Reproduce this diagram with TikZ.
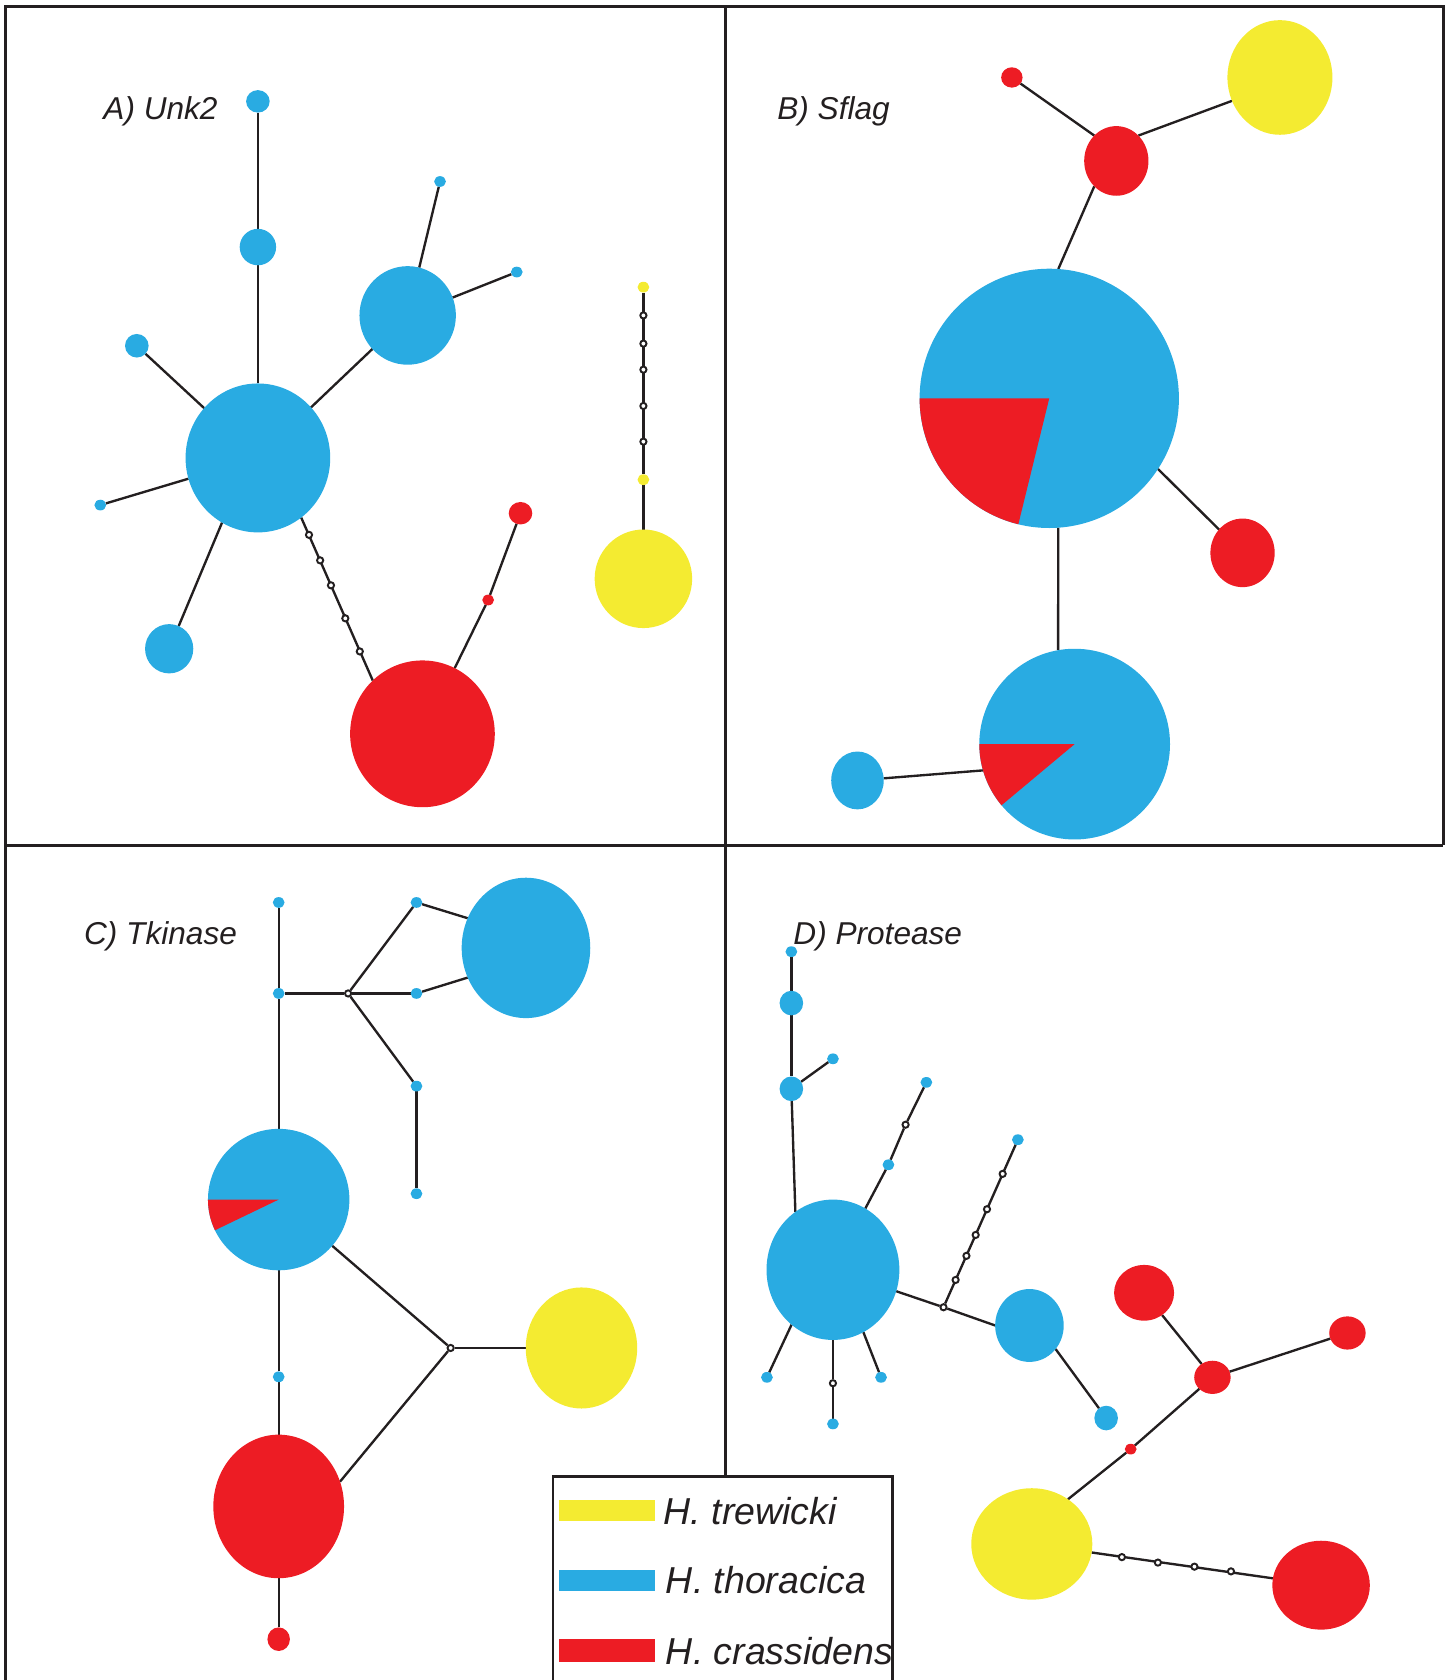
\documentclass[tikz,border=0pt]{standalone}
\usepackage{fontspec}
\newfontfamily\labfont{Liberation Sans}
\usetikzlibrary{shapes.geometric, backgrounds}
\definecolor{hblue}{HTML}{29ABE2}
\definecolor{hred}{HTML}{ED1C24}
\definecolor{hyel}{HTML}{F4EB31}
\definecolor{ink}{HTML}{231F20}

\begin{document}
\begin{tikzpicture}[x=1pt, y=-1pt,
		hap/.style={ellipse, inner sep=0pt, outer sep=0pt},
		sz/.style args={#1/#2}{minimum width=#1pt, minimum height=#2pt},
		thor/.style={hap, fill=hblue, sz=#1}, thor/.default=11/10,
		cras/.style={hap, fill=hred, sz=#1}, cras/.default=11/10,
		trew/.style={hap, fill=hyel, sz=#1}, trew/.default=11/10,
		mv/.style={circle, draw=ink, fill=white, line width=1.8pt, inner sep=0pt, minimum size=5.8pt},
		edge/.style={draw=ink, line width=2.2pt},
		frame/.style={draw=ink, line width=2.4pt},
		ttl/.style={anchor=west, text=ink, font=\labfont\itshape\fontsize{29.5}{34}\selectfont},
		key/.style={anchor=west, text=ink, font=\labfont\itshape\fontsize{35}{40}\selectfont}
		]
		\useasboundingbox (0,0) rectangle (1353,1568);
		
		% Panel frames
		\draw[frame] (5,1568) -- (5,6) -- (1347,6) -- (1347,789);
		\draw[frame] (5,789) -- (1347,789);
		\draw[frame] (677,6) -- (677,1378);
		
		% A) Unk2
		\node[ttl] (ttla) at (93,104) {A) Unk2};
		\node[thor=22/21] (ut1) at (240.7,94.6) {};
		\node[thor=34/34] (ut2) at (240.7,230.6) {};
		\node[thor=135/139] (ubig) at (240.7,427.4) {};
		\node[thor=22/22] (ut3) at (127.7,322.7) {};
		\node[thor] (ut4) at (93.6,471.4) {};
		\node[thor=45/46] (ut5) at (157.9,605.5) {};
		\node[thor=90/92] (umid) at (380.5,294.4) {};
		\node[thor] (ut6) at (410.7,169.4) {};
		\node[thor] (ut7) at (482.3,253.9) {};
		\node[cras=135/137] (ured) at (394.3,684.9) {};
		\node[cras] (ur1) at (455.6,560) {};
		\node[cras=22/21] (ur2) at (485.8,479) {};
		\node[trew=91/92] (uy) at (600.5,540.2) {};
		\node[trew] (uy1) at (600.5,268) {};
		\node[trew] (uy2) at (600.5,447.7) {};
		\foreach \n/\y in {1/294.4, 2/320.7, 3/345, 4/378.9, 5/412.2}
		\node[mv] (um\n) at (600.5,\y) {};
		\foreach \n/\x/\y in {1/288.4/499.2, 2/298.8/523, 3/308.9/546.3, 4/322.3/577.1, 5/335.8/608}
		\node[mv] (un\n) at (\x,\y) {};
		
		% B) Sflag
		\node[ttl] (ttlb) at (722,104) {B) Sflag};
		\node[cras=20/19] (sr1) at (944.4,72.3) {};
		\node[cras=60/65] (sr2) at (1041.9,150.2) {};
		\node[trew=98/107] (sy) at (1194.6,72.3) {};
		\node[thor=242/242] (spA) at (979.3,371.8) {};
		\node[cras=60/64] (sr3) at (1159.7,516) {};
		\node[thor=178/178] (spB) at (1003,694.5) {};
		\node[thor=49/54] (st1) at (800.3,728.4) {};
		\fill[hred] (spA.center) -- (spA.180) arc[start angle=180, end angle=103.8, radius=121] -- cycle;
		\fill[hred] (spB.center) -- (spB.180) arc[start angle=180, end angle=140.1, radius=89] -- cycle;
		
		% C) Tkinase
		\node[ttl] (ttlc) at (75,874) {C) Tkinase};
		\node[thor] (kt1) at (260.1,842.3) {};
		\node[thor] (kt2) at (260.1,927.2) {};
		\node[mv] (km1) at (324.9,927.2) {};
		\node[thor] (kt3) at (388.7,842.3) {};
		\node[thor] (kt4) at (388.7,927.2) {};
		\node[thor] (kt5) at (388.7,1013.7) {};
		\node[thor] (kt6) at (388.7,1114.1) {};
		\node[thor=120/131] (kbig) at (490.9,884.7) {};
		\node[thor=132/132] (kpie) at (260.1,1119.6) {};
		\node[thor] (kt7) at (260.1,1285) {};
		\node[cras=122/134] (kred) at (260.1,1406) {};
		\node[cras=21/22] (kr1) at (260.1,1529.9) {};
		\node[mv] (km2) at (420.6,1258.1) {};
		\node[trew=104/113] (ky) at (542.7,1258.1) {};
		\fill[hred] (kpie.center) -- (kpie.180) arc[start angle=180, end angle=154.3, radius=66] -- cycle;
		
		% D) Protease
		\node[ttl] (ttld) at (737,874) {D) Protease};
		\node[thor] (pt1) at (738.6,888.2) {};
		\node[thor=22/23] (pt2) at (738.6,936.2) {};
		\node[thor] (pt3) at (777.4,988.2) {};
		\node[thor=22/23] (pt4) at (738.6,1016.2) {};
		\node[thor=124/131] (pbig) at (777.4,1185.1) {};
		\node[thor] (pt5) at (829.2,1087.1) {};
		\node[mv] (pm1) at (845.2,1049.7) {};
		\node[thor] (pt6) at (864.6,1010.2) {};
		\node[mv] (pjn) at (880.6,1220.1) {};
		\foreach \n/\x/\y in {2/891.9/1194.6, 3/902/1172.1, 4/910.6/1152.6, 5/921.2/1128.6, 6/935.8/1095.6}
		\node[mv] (pm\n) at (\x,\y) {};
		\node[thor] (pt7) at (950,1063.7) {};
		\node[thor=64/68] (pb2) at (960.8,1237.1) {};
		\node[thor=22/23] (pt8) at (1032.4,1323.5) {};
		\node[thor] (pt9) at (715.8,1285.5) {};
		\node[mv] (pm7) at (777.4,1291) {};
		\node[thor] (pt10) at (777.4,1329) {};
		\node[thor] (pt11) at (822.3,1285.5) {};
		\node[cras=56/52] (pr1) at (1067.8,1206.6) {};
		\node[cras=34/31] (pr2) at (1131.6,1285.5) {};
		\node[cras=34/31] (pr3) at (1257.6,1244.1) {};
		\node[cras] (pr4) at (1055.3,1352.5) {};
		\node[trew=113/104] (py) at (963,1441) {};
		\node[cras=91/83] (pred) at (1233,1479.5) {};
		\foreach \n/\x/\y in {8/1047.1/1453.3, 9/1080.7/1458.4, 10/1114.8/1462.2, 11/1148.9/1466.6}
		\node[mv] (pm\n) at (\x,\y) {};
		
		% Links
		\begin{scope}[on background layer]
			\foreach \i/\j in {ut1/ut2, ut2/ubig, ubig/ut3, ubig/ut4, ubig.-119/ut5, ubig/umid,
				umid/ut6, umid/ut7, ubig.-54/ured.133, ured/ur1, ur1/ur2, uy1/uy2, uy2/uy,
				sr1/sr2.131, sr2.49/sy.-154, sr2.-131/spA.86, spA.-33/sr3, spA.-86/spB.100, st1/spB.196,
				kt1/kt2, kt2/kpie, kpie/kt7, kt7/kred, kred/kr1, kt2/km1, km1/kt3, km1/kt4, km1/kt5,
				kt5/kt6, kt3/kbig.153, kt4/kbig.207, kpie/km2, kred.22/km2, km2/ky,
				pt1/pt2, pt2/pt4, pt4/pt3, pt4/pbig.123, pbig/pt5, pt5/pm1, pm1/pt6, pbig/pjn,
				pjn/pb2.west, pjn/pt7, pb2.-42/pt8, pbig.-127/pt9, pbig/pm7, pm7/pt10, pbig.-64/pt11,
				pr1/pr2, pr2/pr3, pr2/pr4, pr4/py.51, py/pred}
			\draw[edge] (\i) -- (\j);
		\end{scope}
		
		% Legend
		\draw[frame, fill=white] (516,1568) |- (833,1378) -- (833,1568);
		\fill[hyel] (522,1400) rectangle (611,1420);
		\fill[hblue] (522,1465) rectangle (611,1485);
		\fill[hred] (522,1530) rectangle (611,1551);
		\node[key] (ktr) at (616,1410) {H. trewicki};
		\node[key] (kth) at (618,1475) {H. thoracica};
		\node[key] (kcr) at (618,1541) {H. crassidens};
		
	\end{tikzpicture}
\end{document}
